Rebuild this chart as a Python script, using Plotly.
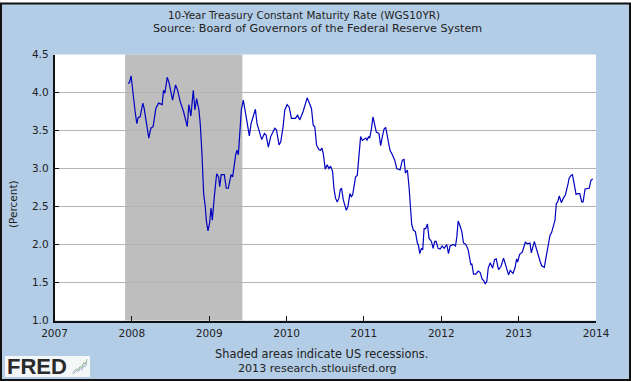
import plotly.graph_objects as go

W, H = 631, 382

# decimal-year dates and yields, read in order from the picture
dates = [
 2007.952,2007.969,2007.990,2008.008,2008.021,2008.042,2008.064,2008.081,2008.107,2008.142,
 2008.159,2008.185,2008.219,2008.245,2008.275,2008.310,2008.345,2008.392,2008.409,2008.427,
 2008.457,2008.483,2008.526,2008.565,2008.591,2008.625,2008.668,2008.716,2008.737,2008.763,
 2008.794,2008.815,2008.837,2008.867,2008.884,2008.906,2008.928,2008.949,2008.962,2008.984,
 2009.005,2009.023,2009.040,2009.066,2009.096,2009.122,2009.135,2009.156,2009.195,2009.221,
 2009.247,2009.282,2009.303,2009.342,2009.359,2009.377,2009.394,2009.415,2009.441,2009.467,
 2009.489,2009.519,2009.541,2009.597,2009.618,2009.653,2009.679,2009.713,2009.735,2009.765,
 2009.795,2009.847,2009.869,2009.903,2009.925,2009.955,2009.977,2010.007,2010.033,2010.063,
 2010.115,2010.141,2010.171,2010.214,2010.266,2010.322,2010.344,2010.365,2010.387,2010.417,
 2010.439,2010.456,2010.474,2010.500,2010.525,2010.547,2010.569,2010.595,2010.612,2010.633,
 2010.655,2010.677,2010.694,2010.711,2010.733,2010.772,2010.793,2010.819,2010.836,2010.854,
 2010.880,2010.892,2010.914,2010.936,2010.957,2010.979,2011.000,2011.026,2011.039,2011.061,
 2011.074,2011.095,2011.117,2011.139,2011.160,2011.195,2011.216,2011.238,2011.260,2011.281,
 2011.311,2011.337,2011.367,2011.398,2011.424,2011.467,2011.497,2011.519,2011.536,2011.562,
 2011.583,2011.605,2011.618,2011.639,2011.665,2011.691,2011.704,2011.722,2011.743,2011.760,
 2011.778,2011.799,2011.821,2011.842,2011.873,2011.894,2011.916,2011.933,2011.959,2011.985,
 2012.011,2012.037,2012.071,2012.093,2012.114,2012.158,2012.184,2012.201,2012.218,2012.244,
 2012.265,2012.287,2012.317,2012.348,2012.369,2012.382,2012.395,2012.417,2012.447,2012.477,
 2012.503,2012.529,2012.546,2012.568,2012.589,2012.607,2012.633,2012.663,2012.689,2012.710,
 2012.740,2012.771,2012.805,2012.835,2012.870,2012.892,2012.926,2012.952,2012.974,2012.987,
 2013.013,2013.047,2013.064,2013.086,2013.116,2013.146,2013.164,2013.203,2013.228,2013.254,
 2013.280,2013.298,2013.332,2013.349,2013.375,2013.405,2013.427,2013.453,2013.470,2013.487,
 2013.505,2013.526,2013.552,2013.578,2013.604,2013.639,2013.652,2013.677,2013.695,2013.721,
 2013.742,2013.764,2013.790,2013.816,2013.833,2013.859,2013.911,2013.937,2013.958,
]
values = [
 4.12,4.13,4.22,4.03,3.88,3.75,3.59,3.67,3.68,3.86,
 3.79,3.59,3.40,3.53,3.55,3.79,3.86,3.84,4.03,3.99,
 4.20,4.12,3.90,4.10,4.03,3.88,3.75,3.55,3.84,3.69,
 4.03,3.77,3.92,3.77,3.59,3.20,2.67,2.50,2.32,2.18,
 2.28,2.48,2.32,2.63,2.93,2.89,2.76,2.92,2.92,2.74,
 2.74,2.92,2.89,3.18,3.24,3.18,3.42,3.77,3.90,3.73,
 3.57,3.43,3.59,3.78,3.59,3.48,3.38,3.46,3.44,3.28,
 3.42,3.53,3.51,3.31,3.35,3.55,3.77,3.84,3.81,3.66,
 3.66,3.70,3.64,3.75,3.93,3.79,3.57,3.55,3.31,3.25,
 3.24,3.27,3.20,2.99,3.05,3.00,3.03,2.96,2.74,2.61,
 2.56,2.61,2.72,2.74,2.59,2.45,2.50,2.67,2.63,2.65,
 2.85,2.89,2.91,3.20,3.42,3.37,3.38,3.40,3.37,3.42,
 3.40,3.51,3.68,3.57,3.48,3.46,3.30,3.42,3.52,3.54,
 3.40,3.24,3.18,3.11,3.00,2.98,3.11,3.12,2.94,2.98,
 2.76,2.46,2.26,2.19,2.17,2.02,1.99,1.88,1.95,1.93,
 2.21,2.21,2.27,2.08,2.04,1.95,2.04,2.04,1.95,1.94,
 1.98,1.95,2.00,1.88,1.98,2.00,1.98,2.10,2.31,2.24,
 2.17,2.02,2.00,1.93,1.77,1.73,1.75,1.61,1.61,1.65,
 1.63,1.54,1.53,1.48,1.52,1.69,1.76,1.69,1.80,1.81,
 1.67,1.71,1.82,1.73,1.60,1.66,1.62,1.69,1.81,1.77,
 1.87,1.90,1.95,2.03,2.01,2.02,1.89,2.04,1.95,1.84,
 1.77,1.72,1.70,1.80,1.96,2.12,2.16,2.26,2.32,2.54,
 2.56,2.64,2.55,2.61,2.65,2.80,2.87,2.91,2.92,2.78,
 2.66,2.67,2.67,2.56,2.56,2.73,2.74,2.85,2.86,
]

year_ticks = [2007, 2008, 2009, 2010, 2011, 2012, 2013, 2014]
value_ticks = [1.0, 1.5, 2.0, 2.5, 3.0, 3.5, 4.0, 4.5]
recession_start, recession_end = 2007.913, 2009.429

logo_x = [0, 1, 2, 3, 4, 5, 6, 7, 8]
logo_green = [1, 2, 2.5, 2, 3.5, 3, 5, 4.5, 6.5]
logo_blue = [0.3, 1, 2, 1.3, 2.8, 2, 3.8, 3.5, 5.2]

FONT = "DejaVu Sans"
TXT = "#222222"
BLUE = "#b3cde6"

fig = go.Figure()
fig.add_trace(go.Scatter(x=dates, y=values, mode="lines", line=dict(color="#0000c0", width=1.2),
                         hoverinfo="skip", showlegend=False))
fig.add_trace(go.Scatter(x=logo_x, y=logo_green, mode="lines", line=dict(color="#8fb58f", width=1),
                         xaxis="x2", yaxis="y2", showlegend=False, hoverinfo="skip"))
fig.add_trace(go.Scatter(x=logo_x, y=logo_blue, mode="lines", line=dict(color="#9fb4cf", width=1),
                         xaxis="x2", yaxis="y2", showlegend=False, hoverinfo="skip"))

def px(x): return x / W
def py(y): return 1 - y / H

shapes = [
    dict(type="rect", xref="paper", yref="paper", x0=px(1), x1=px(630), y0=py(380), y1=py(3.5),
         fillcolor=BLUE, line=dict(color="#111111", width=2), layer="below"),
    dict(type="rect", xref="paper", yref="paper", x0=px(54.5), x1=px(596), y0=py(320.5), y1=py(54.5),
         fillcolor="white", line=dict(width=0), layer="below"),
    dict(type="rect", xref="paper", yref="paper", x0=px(5), x1=px(90), y0=py(377), y1=py(356),
         fillcolor="#f4f6f8", line=dict(width=0), layer="below"),
    dict(type="rect", xref="x", yref="paper", x0=recession_start, x1=recession_end, y0=py(320.5), y1=py(54.5),
         fillcolor="#bebebe", line=dict(width=0), layer="between"),
]

def label(text, x, y, size, **kw):
    return dict(text=text, x=px(x), y=py(y), xref="paper", yref="paper", showarrow=False,
                xanchor="center", yanchor="middle",
                font=dict(family=FONT, size=size, color=TXT), **kw)

annotations = [
    label("10-Year Treasury Constant Maturity Rate (WGS10YR)", 304, 14.5, 10.4),
    label("Source: Board of Governors of the Federal Reserve System", 317.5, 28.5, 11.2),
    label("Shaded areas indicate US recessions.", 321.5, 354, 11.4),
    label("2013 research.stlouisfed.org", 317.5, 368, 11.1),
    label("(Percent)", 13, 204, 10.5, textangle=-90),
    dict(text="<b>FRED</b>", x=px(37), y=py(366), xref="paper", yref="paper", showarrow=False,
         xanchor="center", yanchor="middle",
         font=dict(family="Liberation Sans", size=22, color="#2a2a2a")),
]

fig.update_layout(
    width=W, height=H, autosize=False,
    margin=dict(l=0, r=0, t=0, b=0),
    paper_bgcolor="white", plot_bgcolor="rgba(0,0,0,0)",
    shapes=shapes, annotations=annotations, showlegend=False,
    font=dict(family=FONT, size=10.5, color=TXT),
    xaxis=dict(domain=[px(54.5), px(596)], range=[2007, 2014], tickmode="array", tickvals=year_ticks, automargin=False,
               ticktext=[str(y) for y in year_ticks], ticks="inside", ticklen=5, tickcolor="#111111", tickwidth=1,
               ticklabelstandoff=2,
               showgrid=False, zeroline=False, showline=True, linecolor="#111111", linewidth=1.5),
    yaxis=dict(domain=[py(320.5), py(54.5)], range=[1.0, 4.5], tickmode="array", tickvals=value_ticks, automargin=False,
               ticktext=[f"{v:.1f}" for v in value_ticks], ticks="inside", ticklen=5, tickcolor="#111111", tickwidth=1,
               ticklabelstandoff=2,
               showgrid=True, gridcolor="#b4b4b4", gridwidth=1, zeroline=False, showline=True,
               linecolor="#111111", linewidth=1.5),
    xaxis2=dict(domain=[px(72), px(88)], anchor="y2", visible=False, range=[-0.5, 8.5], automargin=False),
    yaxis2=dict(domain=[py(375), py(358)], anchor="x2", visible=False, range=[0, 7], automargin=False),
)
fig.write_html("out.html", config=dict(displayModeBar=False),
               post_script="document.body.style.margin='0';document.documentElement.style.overflow='hidden';")
